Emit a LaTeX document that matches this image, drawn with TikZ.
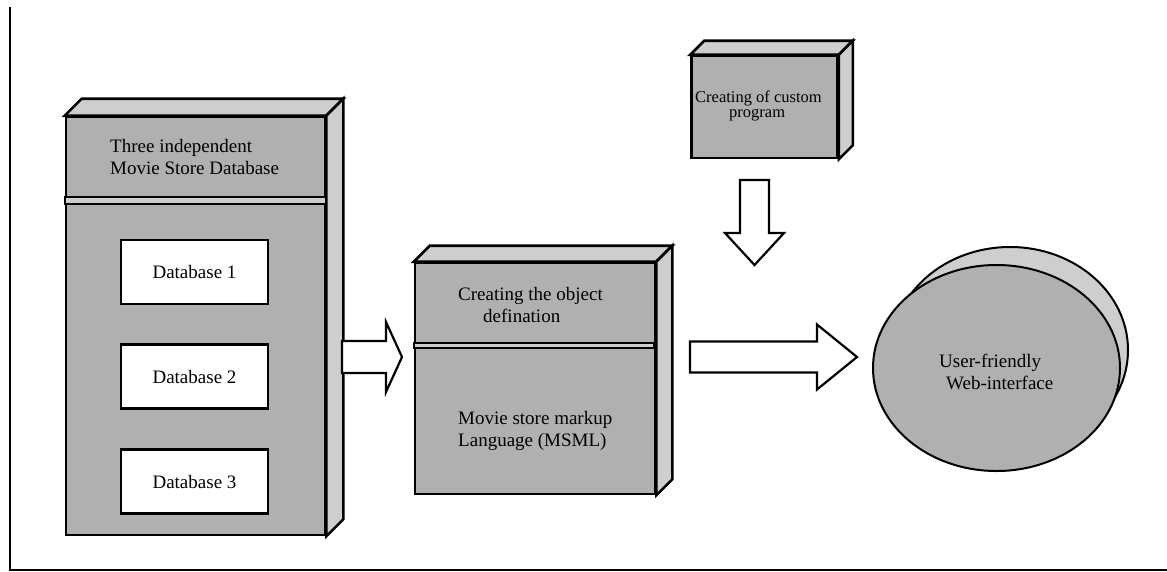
\documentclass[tikz,border=0pt]{standalone}
\usepackage{fontspec}
\setmainfont{Liberation Serif}
\usetikzlibrary{calc,shapes.geometric}

\definecolor{facegray}{RGB}{176,176,176}
\definecolor{sidegray}{RGB}{206,206,206}

% horizontal block arrow: start, tip, half shaft, half head, head length
\newcommand\hblockarrow[5]{%
  \draw[blockarr] ($(#1)+(0,-#3)$) -- ($(#2)+(-#5,-#3)$) -- ($(#2)+(-#5,-#4)$)
    -- (#2) -- ($(#2)+(-#5,#4)$) -- ($(#2)+(-#5,#3)$) -- ($(#1)+(0,#3)$) -- cycle;}
% downward block arrow: start, tip, half shaft, half head, head length
\newcommand\vblockarrow[5]{%
  \draw[blockarr] ($(#1)+(-#3,0)$) -- ($(#2)+(-#3,-#5)$) -- ($(#2)+(-#4,-#5)$)
    -- (#2) -- ($(#2)+(#4,-#5)$) -- ($(#2)+(#3,-#5)$) -- ($(#1)+(#3,0)$) -- cycle;}
% top and right faces of a box node, depth #2
\newcommand\boxdepth[2]{%
  \draw[sideface] (#1.north west) -- ($(#1.north west)+(#2,-#2)$)
    -- ($(#1.north east)+(#2,-#2)$) -- (#1.north east) -- cycle;
  \draw[sideface] (#1.north east) -- ($(#1.north east)+(#2,-#2)$)
    -- ($(#1.south east)+(#2,-#2)$) -- (#1.south east) -- cycle;}

\tikzset{
  frontbox/.style={draw, line width=2.6pt, fill=facegray, inner sep=0pt},
  sideface/.style={draw, line width=2.6pt, fill=sidegray, line join=miter},
  dbbox/.style={draw, line width=2.6pt, fill=white, minimum width=147pt,
    minimum height=64pt, inner sep=0pt, font=\fontsize{19}{23}\selectfont},
  divider/.style={draw, line width=2pt, fill=sidegray},
  lbl/.style={inner sep=0pt, align=left, font=\fontsize{19}{22.5}\selectfont},
  blockarr/.style={draw, line width=2.2pt, fill=white, line join=miter},
  disc/.style={ellipse, draw, line width=2pt, inner sep=0pt},
  frame/.style={line width=1.8pt},
}

\begin{document}
\begin{tikzpicture}[x=1pt,y=-1pt]
\useasboundingbox (0,0) rectangle (1167,571);

% outer frame: left and bottom rules
\coordinate (ftop) at (10,7);
\coordinate (fcorner) at (10,570);
\coordinate (fright) at (1167,570);
\draw[frame] (ftop) -- (fcorner) -- (fright);

% movie store database block
\node[frontbox, minimum width=259pt, minimum height=418pt] (db) at (195.5,326) {};
\boxdepth{db}{17}
\draw[divider] ($(db.north west)+(0,81)$) rectangle ($(db.north east)+(0,88)$);
\node[lbl, anchor=west] (dbtitle) at (110,157) {Three independent\\Movie Store Database};
\node[dbbox] (db1) at (194.5,272) {Database 1};
\node[dbbox] (db2) at (194.5,376.5) {Database 2};
\node[dbbox] (db3) at (194.5,481.5) {Database 3};

% object definition block
\node[frontbox, minimum width=240pt, minimum height=231pt] (obj) at (535,378.5) {};
\boxdepth{obj}{16}
\draw[divider] ($(obj.north west)+(0,81)$) rectangle ($(obj.north west)+(240,86)$);
\node[lbl, anchor=west] (objtop) at (458,305) {Creating the object\\\hspace*{25pt}defination};
\node[lbl, anchor=west] (objbot) at (458,431) {Movie store markup\\Language (MSML)};

% custom program block
\node[frontbox, minimum width=146pt, minimum height=102pt] (cust) at (764.5,107) {};
\boxdepth{cust}{14}
\node[lbl, anchor=west, font=\fontsize{16.5}{15}\selectfont] (custtxt) at (695,106)
  {Creating of custom\\\hspace*{34pt}program};

% web interface disc
\node[disc, fill=sidegray, minimum width=236pt, minimum height=206pt] (webback) at (1010,350) {};
\node[disc, fill=facegray, minimum width=247pt, minimum height=206pt] (web) at (996.5,368) {};
\node[lbl, anchor=west] (webtxt) at (939,372) {User-friendly\\\hspace*{7pt}Web-interface};

% block arrows between the stages
\coordinate (a1s) at (342,357);
\coordinate (a1e) at (402,357);
\hblockarrow{a1s}{a1e}{16}{35}{16}
\coordinate (a2s) at (690,357);
\coordinate (a2e) at (857,357);
\hblockarrow{a2s}{a2e}{15.5}{32.5}{40}
\coordinate (a3s) at (754.5,180);
\coordinate (a3e) at (754.5,265);
\vblockarrow{a3s}{a3e}{14.5}{29.5}{32}
\end{tikzpicture}
\end{document}
